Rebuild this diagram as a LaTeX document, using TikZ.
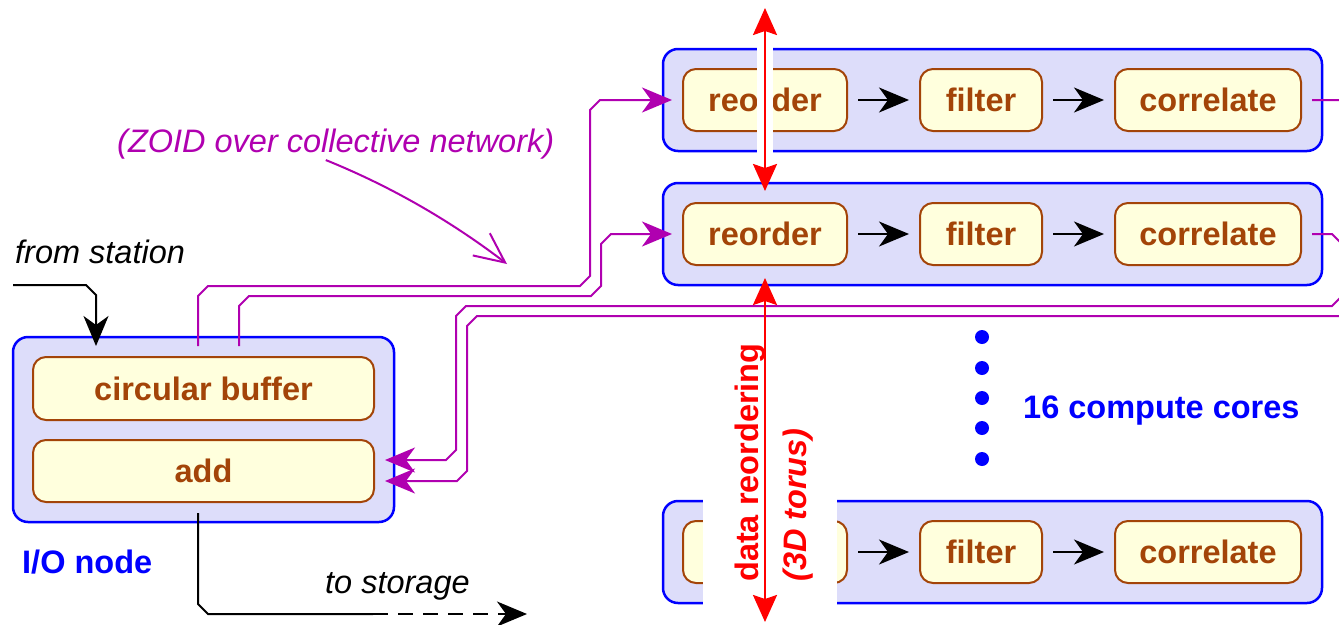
\documentclass[tikz,border=0pt]{standalone}
\usepackage{fontspec}
\setmainfont{Liberation Sans}
\usetikzlibrary{arrows.meta}
\definecolor{cblue}{RGB}{0,0,255}
\definecolor{cfill}{RGB}{221,221,250}
\definecolor{sfill}{RGB}{255,255,221}
\definecolor{sbrown}{RGB}{163,68,8}
\definecolor{cmag}{RGB}{176,0,176}
\newcommand\dfont{\fontsize{32.5}{39}\selectfont}
\begin{document}
\begin{tikzpicture}[x=1pt,y=-1pt,
  core/.style={draw=cblue, fill=cfill, line width=2.5pt, rounded corners=15pt, inner sep=0pt, minimum width=659pt, minimum height=102pt},
  stage/.style={draw=sbrown, fill=sfill, line width=2pt, rounded corners=13pt, inner sep=0pt, minimum height=62pt, text=sbrown, font=\dfont\bfseries},
  endtip/.style={-{Stealth[length=30pt,width=25pt,inset=9pt]}},
  flow/.style={line width=2pt, endtip, shorten <=10pt, shorten >=10pt},
  magline/.style={draw=cmag, line width=2pt, endtip, shorten <=10pt, shorten >=10pt},
  redarrow/.style={draw=red, line width=2.5pt, {Stealth[length=27pt,width=24pt,inset=4pt]}-{Stealth[length=27pt,width=24pt,inset=4pt]}},
  lbl/.style={inner sep=0pt, font=\dfont},
  dot/.style={circle, fill=cblue, inner sep=0pt, minimum size=14pt},
]
\useasboundingbox (0,0) rectangle (1339,624);
\fill[white] (0,0) rectangle (1339,624);
\clip (0,0) rectangle (1339,624);

% compute cores
\foreach \i/\y in {1/100,2/234,3/552}{
  \node[core] (r\i) at (992.5,\y) {};
  \node[stage, minimum width=164pt] (ro\i) at (765,\y) {reorder};
  \node[stage, minimum width=122pt] (fi\i) at (981,\y) {filter};
  \node[stage, minimum width=186pt] (co\i) at (1208,\y) {correlate};
  \draw[flow] (ro\i) -- (fi\i);
  \draw[flow] (fi\i) -- (co\i);
}

% I/O node
\node[core, minimum width=381pt, minimum height=185pt] (io) at (203.5,429.5) {};
\node[stage, minimum width=341pt, minimum height=63pt] (cb) at (203.5,388.5) {circular buffer};
\node[stage, minimum width=341pt] (add) at (203.5,471) {add};
\node[lbl, anchor=base west, text=cblue, font=\dfont\bfseries] (iolbl) at (22,573) {I/O node};

% from station
\node[lbl, anchor=base west, font=\dfont\itshape] (fromst) at (15,263) {from station};
\coordinate (src) at (13,285);
\draw[line width=2pt, endtip, shorten >=10pt] (src) -- (86,285) -- (96,295) -- (96,0 |- cb.north);

% to storage
\node[lbl, anchor=base west, font=\dfont\itshape] (tost) at (325,593) {to storage};
\coordinate (mid) at (373,614);
\coordinate (sink) at (527,614);
\draw[line width=2pt, shorten <=10pt] (198,0 |- add.south) -- (198,604) -- (208,614) -- (mid);
\draw[line width=2pt, endtip, dash pattern=on 15pt off 10pt] (mid) -- (sink);

% collective network lines
\draw[magline] (198,0 |- cb.north) -- (198,296) -- (208,286) -- (580,286) -- (590,276) -- (590,110) -- (600,100) -- (ro1.west);
\draw[magline] (239,0 |- cb.north) -- (239,306) -- (249,296) -- (591,296) -- (601,286) -- (601,244) -- (611,234) -- (ro2.west);
\draw[magline] (co2.east) -- (1332,234) -- (1342,244) -- (1342,296) -- (1332,306) -- (466,306) -- (456,316) -- (456,450) -- (446,460) -- (add.east |- 0,460);
\draw[magline] (co1.east) -- (1349,100) -- (1359,110) -- (1359,306) -- (1349,316) -- (477,316) -- (467,326) -- (467,471) -- (457,481) -- (add.east |- 0,481);

\node[lbl, anchor=base west, text=cmag, font=\dfont\itshape] (zoid) at (117,152) {(ZOID over collective network)};
\draw[cmag, line width=2pt, -{Straight Barb[length=30pt,width=28pt]}, shorten <=3pt]
  (323,0 |- zoid.south) .. controls (400,190) and (460,228) .. (507,264);

% red torus arrows
\draw[white, line width=16pt] (765,45) -- (765,158);
\coordinate (rtop) at (765,8);
\draw[redarrow, shorten >=11pt] (rtop) -- (ro2.north);

\fill[white] (703,330) rectangle (837,615);
\node[lbl, rotate=90, anchor=base west, text=red, font=\dfont\bfseries] (dr) at (758,582) {data reordering};
\node[lbl, rotate=90, anchor=base west, text=red, font=\dfont\bfseries\itshape] (tor) at (806,582) {(3D torus)};
\coordinate (rbot) at (765,622);
\draw[redarrow, shorten <=12pt] (ro2.south) -- (rbot);

% dots and count
\foreach \k/\y in {1/337,2/368,3/398,4/428,5/459}{
  \node[dot] (d\k) at (982,\y) {};
}
\node[lbl, anchor=base west, text=cblue, font=\dfont\bfseries] (cnt) at (1023,418) {16 compute cores};
\end{tikzpicture}
\end{document}
